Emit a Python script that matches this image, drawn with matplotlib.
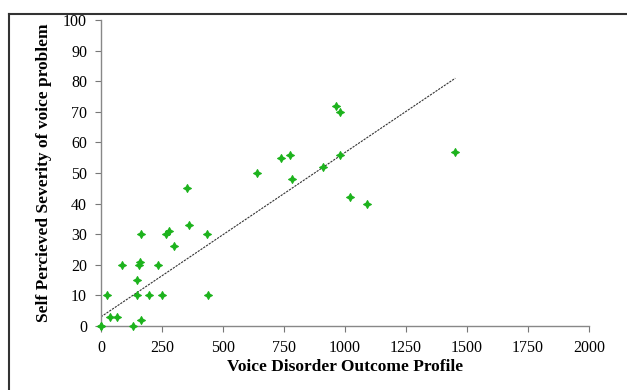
import matplotlib
matplotlib.use("Agg")
import matplotlib.pyplot as plt
import numpy as np
from matplotlib.lines import Line2D

# Voice Disorder Outcome Profile (x) vs self-perceived severity (y)
vdop = [0, 0, 25, 37, 66, 86, 131, 147, 147, 155, 160, 163, 163, 196, 233,
        250, 266, 278, 299, 352, 360, 434, 438, 638, 736, 773, 781, 908,
        965, 981, 981, 1022, 1090, 1452]
severity = [0, 0, 10, 3, 3, 20, 0, 15, 10, 20, 21, 30, 2, 10, 20,
            10, 30, 31, 26, 45, 33, 30, 10, 50, 55, 56, 48, 52,
            72, 70, 56, 42, 40, 57]

# trend line as drawn in the source figure
trend_intercept = 3.0
trend_slope = 0.0537

x_ticks = [0, 250, 500, 750, 1000, 1250, 1500, 1750, 2000]
y_ticks = list(range(0, 101, 10))

plt.rcParams["font.family"] = ["Liberation Serif", "DejaVu Serif"]

fig = plt.figure(figsize=(6.27, 3.90), dpi=100)
ax = fig.add_axes([101 / 627, 1 - 326 / 390, 488 / 627, 306 / 390])

xs = np.array([0, max(vdop)])
ax.plot(xs, trend_intercept + trend_slope * xs, color="#333333", lw=0.8,
        ls=(0, (2, 1)), zorder=2)

ax.scatter(vdop, severity, marker=(4, 1, 0), s=32, color="#1db31d",
           edgecolors="#1db31d", linewidths=0.8, zorder=3, clip_on=False)

ax.set_xlim(0, 2000)
ax.set_ylim(0, 100)
ax.set_xticks(x_ticks)
ax.set_yticks(y_ticks)
ax.tick_params(labelsize=11.5, color="#777777", length=4, width=0.8, pad=6)
for side in ["top", "right"]:
    ax.spines[side].set_visible(False)
for side in ["left", "bottom"]:
    ax.spines[side].set_color("#888888")
    ax.spines[side].set_linewidth(1.0)

ax.set_xlabel("Voice Disorder Outcome Profile", fontsize=12.5, fontweight="bold", labelpad=2)
ax.set_ylabel("Self Percieved Severity of voice problem", fontsize=12.5,
              fontweight="bold", labelpad=8)

# outer figure frame (cut off at right and bottom)
fig.add_artist(Line2D([9 / 627, 1], [1 - 14 / 390] * 2, transform=fig.transFigure,
                      color="#333333", lw=1.5))
fig.add_artist(Line2D([9 / 627] * 2, [0, 1 - 14 / 390], transform=fig.transFigure,
                      color="#333333", lw=1.5))

fig.savefig("out.png", dpi=100)
